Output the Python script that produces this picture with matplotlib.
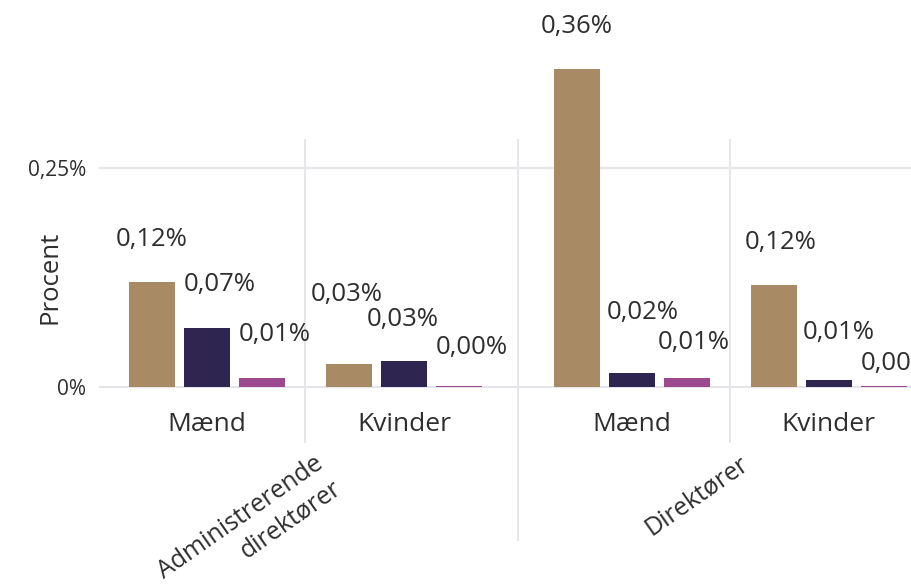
import matplotlib
matplotlib.use("Agg")
import matplotlib.pyplot as plt
import numpy as np

plt.rcParams['font.family'] = ['Open Sans', 'DejaVu Sans']

# ---- data ----
groups = ["Administrerende\ndirektører", "Direktører"]
subcats = ["Mænd", "Kvinder"]
# values in percent, order of categories: G1-Mænd, G1-Kvinder, G2-Mænd, G2-Kvinder
vals_s1 = [0.1202, 0.026, 0.3637, 0.1164]   # tan
vals_s2 = [0.0675, 0.0294, 0.016, 0.008]    # navy
vals_s3 = [0.0103, 0.0011, 0.0103, 0.0011]  # purple
yticks = [0.0, 0.25]
ytick_labels = ["0%", "0,25%"]

colors = ["#A88B65", "#2E2650", "#9B4A8F"]
text_color = "#2E2E2E"
grid_color = "#E6E6EA"

# label offsets (pixels) for each bar: [cat][series]
label_off = [
    [(0, 42), (13, 43), (13, 43)],
    [(-2, 69), (-1, 41), (13, 38)],
    [(0, 42), (11, 60), (7, 35)],
    [(7, 42), (10, 47), (13, 22)],
]

W, H = 912, 587
fig = plt.figure(figsize=(W / 100, H / 100), dpi=100)

group_gap = 0.157
pos = [0.0, 1.0, 2.0 + group_gap, 3.0 + group_gap]
bar_w = 0.234
bar_step = 0.28

ymin, ymax = -0.006, 0.42
ax = fig.add_axes([99 / W, 0.3324, 1 - 99 / W, 0.6339])
ax.set_xlim(-0.548, 3.579)
ax.set_ylim(ymin, ymax)

all_vals = [vals_s1, vals_s2, vals_s3]
for s in range(3):
    xs = [p + (s - 1) * bar_step for p in pos]
    ax.bar(xs, all_vals[s], width=bar_w, color=colors[s], zorder=3)
    for c, (x, v) in enumerate(zip(xs, all_vals[s])):
        txt = f"{v:.2f}".replace(".", ",") + "%"
        dx, dy = label_off[c][s]
        ax.annotate(txt, (x, v), xytext=(dx, dy), textcoords="offset pixels",
                    ha="center", va="center", fontsize=18.5, color=text_color,
                    annotation_clip=False, zorder=4)

ax.set_yticks(yticks)
ax.set_yticklabels(ytick_labels)
ax.yaxis.grid(True, color=grid_color, linewidth=1.6, zorder=0)
ax.xaxis.grid(False)
ax.set_xticks([])
ax.tick_params(axis="y", length=0, pad=9, labelsize=15, labelcolor=text_color)
for sp in ax.spines.values():
    sp.set_visible(False)

# dividers
div_top = 0.2824
div_short = -0.0633
div_long = -0.1755
for gi in range(2):
    xm = (pos[2 * gi] + pos[2 * gi + 1]) / 2
    ax.plot([xm, xm], [div_top, div_short], color=grid_color, lw=1.4,
            clip_on=False, zorder=1)
xg = (pos[1] + pos[2]) / 2
ax.plot([xg, xg], [div_top, div_long], color=grid_color, lw=1.4,
        clip_on=False, zorder=1)

# sub-category labels
for c, p in enumerate(pos):
    ax.text(p, -0.0438, subcats[c % 2], ha="center", va="center",
            fontsize=19, color=text_color, clip_on=False)

# group labels
for gi, g in enumerate(groups):
    xm = (pos[2 * gi] + pos[2 * gi + 1]) / 2 + 8 / 197
    ax.text(xm, -0.0735, g, rotation=35, rotation_mode="anchor",
            ha="right", va="top", multialignment="right",
            fontsize=18, color=text_color, clip_on=False, linespacing=1.3)

fig.text(50 / W, 1 - 277 / H, "Procent", rotation=90, ha="center",
         va="center", fontsize=18.5, color=text_color)

fig.savefig("out.png", dpi=100)
